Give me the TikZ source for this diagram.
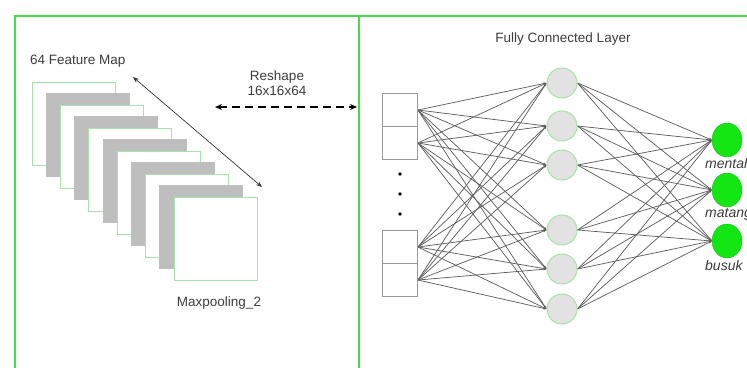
\documentclass[tikz,border=0pt]{standalone}
\usepackage{fontspec}
\setmainfont{Liberation Sans}
\usepackage{tikz}
\usetikzlibrary{arrows.meta,shapes.geometric}
\pgfdeclarelayer{background}
\pgfdeclarelayer{foreground}
\pgfsetlayers{background,main,foreground}
\definecolor{framegreen}{RGB}{70,220,70}
\definecolor{pale}{RGB}{170,225,170}
\definecolor{mapgray}{RGB}{190,190,190}
\definecolor{hidfill}{RGB}{226,226,226}
\definecolor{outgreen}{RGB}{20,230,20}
\definecolor{txt}{RGB}{60,60,60}
\tikzset{
  frame/.style={draw=framegreen,line width=1.5pt},
  whitemap/.style={draw=pale,fill=white,line width=0.9pt,minimum size=83pt,inner sep=0pt},
  graymap/.style={draw=mapgray,fill=mapgray,line width=0.9pt,minimum size=83pt,inner sep=0pt},
  lbl/.style={text=txt,font=\fontsize{13.5}{15}\selectfont,inner sep=0pt},
  cell/.style={draw=gray!80,line width=0.9pt,minimum width=35pt,minimum height=33pt,inner sep=0pt},
  hid/.style={circle,draw=pale,fill=hidfill,line width=1pt,minimum size=30pt,inner sep=0pt},
  outn/.style={ellipse,fill=outgreen,draw=outgreen!85!black,line width=0.4pt,minimum width=30pt,minimum height=34pt,inner sep=0pt},
  wire/.style={draw=gray!75!black,line width=0.75pt,-{Stealth[length=3pt,width=2.5pt]}}
}
\begin{document}
\begin{tikzpicture}[x=1pt,y=-1pt]
\useasboundingbox (0,0) rectangle (747,367);
\draw[frame] (15,380) -- (15,16) -- (760,16);
\draw[frame] (359,16) -- (359,380);
\foreach \i in {0,...,10} {
  \pgfmathsetmacro{\mx}{73.5+14.2*\i}
  \pgfmathsetmacro{\my}{123.5+11.5*\i}
  \ifodd\i
    \node[graymap] (map\i) at (\mx,\my) {};
  \else
    \node[whitemap] (map\i) at (\mx,\my) {};
  \fi
}
\node[lbl,anchor=west] (title) at (30,61) {64 Feature Map};
\node[lbl] (pool) at (219,303) {Maxpooling\_2};
\coordinate (d1) at (133,77);
\coordinate (d2) at (262,187);
\draw[gray!40!black,line width=0.7pt,{Stealth[length=6pt,width=4.5pt]}-{Stealth[length=6pt,width=4.5pt]}] (d1) -- (d2);
\node[lbl,align=center] (reshape) at (277,83) {Reshape\\16x16x64};
\coordinate (r1) at (215,107);
\coordinate (r2) at (357,107);
\draw[black,line width=1.3pt,dash pattern=on 8pt off 5pt,{Stealth[length=7pt,width=6pt]}-{Stealth[length=7pt,width=6pt]}] (r1) -- (r2);
\node[lbl] (fcl) at (563,39) {Fully Connected Layer};
\begin{pgfonlayer}{foreground}
\node[cell] (in1) at (400,110) {};
\node[cell] (in2) at (400,143) {};
\node[cell] (in3) at (400,247) {};
\node[cell] (in4) at (400,280) {};
\foreach \y [count=\k] in {174,194,214}
  \fill (400,\y) circle (1.8pt) coordinate (dot\k);
\foreach \y [count=\k] in {83,126,165,230,269,309}
  \node[hid] (h\k) at (562,\y) {};
\foreach \y [count=\k] in {140,190,241}
  \node[outn] (o\k) at (727,\y) {};
\node[lbl,anchor=west,font=\fontsize{14}{15}\selectfont\itshape] (mentah) at (705,163) {mentah};
\node[lbl,anchor=west,font=\fontsize{14}{15}\selectfont\itshape] (matang) at (705,214) {matang};
\node[lbl,anchor=west,font=\fontsize{14}{15}\selectfont\itshape] (busuk) at (705,265) {busuk};
\end{pgfonlayer}
\begin{pgfonlayer}{background}
\foreach \a in {1,...,4}
  \foreach \b in {1,...,6}
    \draw[wire] (in\a.east) -- (h\b.west);
\foreach \b in {1,...,6}
  \foreach \c in {1,...,3}
    \draw[wire] (h\b.east) -- (o\c.west);
\end{pgfonlayer}
\end{tikzpicture}
\end{document}
